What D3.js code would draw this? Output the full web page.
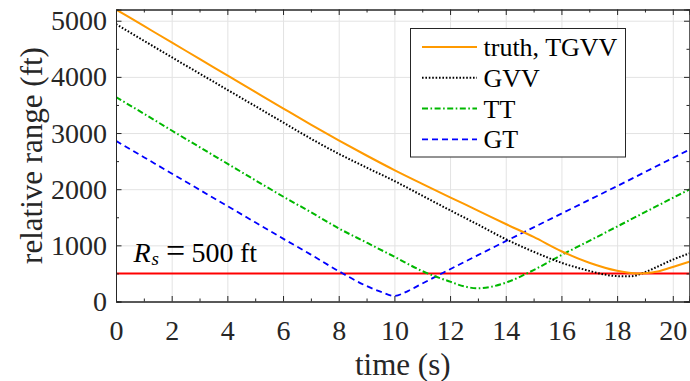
<!DOCTYPE html>
<html>
<head>
  <meta charset="UTF-8">
  <script src="https://d3js.org/d3.v7.min.js"></script>
</head>
<body style="margin:0">
  <svg id="chart" width="690" height="381"></svg>
  <script>
    // time samples (s) and ranges (ft)
    const truthT = [0, 1, 2, 3, 4, 5, 6, 7, 8, 9, 10, 11, 12, 13, 14, 15, 16, 17, 18, 18.7, 19, 19.5, 20, 20.6];
    const truthR = [5200, 4907, 4614, 4320, 4027, 3733, 3440, 3150, 2870, 2600, 2340, 2095, 1855, 1620, 1380, 1150, 895, 690, 548, 500, 505, 540, 615, 710];

    const gvvT = [0, 1, 2, 3, 4, 5, 6, 7, 8, 9, 10, 11, 12, 13, 14, 15, 16, 17, 17.5, 18, 18.5, 19, 19.5, 20, 20.6];
    const gvvR = [4940, 4645, 4350, 4060, 3770, 3480, 3190, 2900, 2630, 2385, 2146, 1885, 1625, 1370, 1110, 886, 690, 545, 485, 452, 450, 520, 632, 745, 857];

    const ttT = [0, 1, 2, 3, 4, 5, 6, 7, 8, 9, 10, 11, 12, 12.5, 13, 13.5, 14, 15, 16, 17, 18, 19, 20, 20.6];
    const ttR = [3640, 3345, 3045, 2750, 2455, 2160, 1870, 1590, 1302, 1050, 797, 542, 353, 270, 235, 265, 335, 560, 827, 1080, 1335, 1590, 1845, 1995];

    const gtT = [0, 1, 2, 3, 4, 5, 6, 7, 8, 9, 9.5, 10, 10.5, 11, 12, 13, 14, 15, 16, 17, 18, 19, 20, 20.6];
    const gtR = [2860, 2570, 2280, 1990, 1700, 1410, 1120, 835, 540, 276, 175, 100, 190, 320, 575, 825, 1075, 1320, 1565, 1810, 2055, 2305, 2555, 2705];

    const safeRange = 500;
    const xTicks = [0, 2, 4, 6, 8, 10, 12, 14, 16, 18, 20];
    const xMinor = [1, 3, 5, 7, 9, 11, 13, 15, 17, 19];
    const yTicks = [0, 1000, 2000, 3000, 4000, 5000];
    const yMinor = [500, 1500, 2500, 3500, 4500];

    const series = [
      {name: "truth, TGVV", t: truthT, r: truthR, color: "#ff9a00", dash: null, width: 2},
      {name: "GVV", t: gvvT, r: gvvR, color: "#000000", dash: "1.6,1.8", width: 2},
      {name: "TT", t: ttT, r: ttR, color: "#00b800", dash: "6,2.5,1.6,2.5", width: 2},
      {name: "GT", t: gtT, r: gtR, color: "#0000ff", dash: "6,4", width: 1.8}
    ];

    const serif = "'Liberation Serif'";
    const svg = d3.select("#chart");
    const margin = {top: 9.5, right: 0.5, bottom: 79.5, left: 116};
    const width = +svg.attr("width") - margin.left - margin.right;
    const height = +svg.attr("height") - margin.top - margin.bottom;
    const g = svg.append("g").attr("transform", `translate(${margin.left},${margin.top})`);

    const x = d3.scaleLinear().domain([0, 20.6]).range([0, width]);
    const y = d3.scaleLinear().domain([0, 5200]).range([height, 0]);

    // grid
    const gx = g.append("g")
      .attr("transform", `translate(0,${height})`)
      .call(d3.axisBottom(x).tickValues(xTicks).tickSize(-height).tickFormat(""));
    const gy = g.append("g")
      .call(d3.axisLeft(y).tickValues(yTicks).tickSize(-width).tickFormat(""));
    [gx, gy].forEach(a => {
      a.select(".domain").remove();
      a.selectAll("line").attr("stroke", "#e3e3e3");
    });

    // lines
    svg.append("clipPath").attr("id", "clip")
      .append("rect").attr("width", width).attr("height", height);

    const line = d3.line()
      .x(d => x(d[0]))
      .y(d => y(d[1]))
      .curve(d3.curveMonotoneX);

    const plot = g.append("g").attr("clip-path", "url(#clip)");

    plot.append("line")
      .attr("x1", 0).attr("x2", width)
      .attr("y1", y(safeRange)).attr("y2", y(safeRange))
      .attr("stroke", "#ff0000").attr("stroke-width", 2);

    series.slice().reverse().forEach(s => {
      plot.append("path")
        .datum(s.t.map((t, i) => [t, s.r[i]]))
        .attr("fill", "none")
        .attr("stroke", s.color)
        .attr("stroke-width", s.width)
        .attr("stroke-dasharray", s.dash)
        .attr("d", line);
    });

    // axes, ticks inward on all four sides
    const axes = [];
    const bottom = g.append("g")
      .attr("transform", `translate(0,${height})`)
      .call(d3.axisBottom(x).tickValues(xTicks).tickSize(-5.5).tickFormat(d3.format("d")));
    bottom.selectAll("text").attr("y", 38.5).attr("dy", 0);
    axes.push(bottom);
    axes.push(g.append("g")
      .attr("transform", `translate(0,${height})`)
      .call(d3.axisBottom(x).tickValues(xMinor).tickSize(-3).tickFormat("")));

    const left = g.append("g")
      .call(d3.axisLeft(y).tickValues(yTicks).tickSize(-5.5).tickFormat(d3.format("d")));
    left.selectAll("text").attr("x", -9);
    axes.push(left);
    axes.push(g.append("g")
      .call(d3.axisLeft(y).tickValues(yMinor).tickSize(-3).tickFormat("")));

    axes.push(g.append("g")
      .call(d3.axisTop(x).tickValues(xTicks).tickSize(-5.5).tickFormat("")));
    axes.push(g.append("g")
      .call(d3.axisTop(x).tickValues(xMinor).tickSize(-3).tickFormat("")));
    axes.push(g.append("g")
      .attr("transform", `translate(${width},0)`)
      .call(d3.axisRight(y).tickValues(yTicks).tickSize(-5.5).tickFormat("")));
    axes.push(g.append("g")
      .attr("transform", `translate(${width},0)`)
      .call(d3.axisRight(y).tickValues(yMinor).tickSize(-3).tickFormat("")));

    axes.forEach(a => {
      a.attr("font-family", "Liberation Serif").attr("font-size", 28);
      a.selectAll("path, line").attr("stroke", "#262626");
      a.selectAll("text")
        .attr("font-family", "Liberation Serif")
        .style("font-family", serif)
        .attr("fill", "#262626");
    });

    // R_s label
    const rsY = y(safeRange) - 11;
    const rs = g.append("text")
      .attr("y", rsY)
      .attr("font-family", "Liberation Serif")
      .style("font-family", serif)
      .attr("font-size", 28).attr("fill", "#000");
    rs.append("tspan").attr("x", 17.5).attr("font-style", "italic").text("R");
    rs.append("tspan").attr("x", 35.5).attr("y", rsY + 3)
      .attr("font-style", "italic").attr("font-size", 19).text("s");
    rs.append("tspan").attr("x", 50).attr("y", rsY).attr("font-size", 34).text("=");
    rs.append("tspan").attr("x", 75.5).text("500");
    rs.append("tspan").attr("x", 124).text("ft");

    // axis labels
    svg.append("text")
      .attr("x", margin.left + width / 2)
      .attr("y", 375)
      .attr("text-anchor", "middle")
      .attr("font-family", "Liberation Serif")
      .style("font-family", serif)
      .attr("font-size", 31)
      .attr("fill", "#262626")
      .text("time (s)");

    svg.append("text")
      .attr("transform", `translate(42,${margin.top + height / 2}) rotate(-90)`)
      .attr("text-anchor", "middle")
      .attr("font-family", "Liberation Serif")
      .style("font-family", serif)
      .attr("font-size", 31)
      .attr("fill", "#262626")
      .text("relative range (ft)");

    // legend
    const legend = svg.append("g").attr("transform", "translate(410.5,28.5)");
    legend.append("rect")
      .attr("width", 215).attr("height", 128.5)
      .attr("fill", "#fff").attr("stroke", "#262626").attr("stroke-width", 1);
    series.forEach((s, i) => {
      const ly = 18.5 + i * 30.8;
      legend.append("line")
        .attr("x1", 11.5).attr("x2", 66.5)
        .attr("y1", ly).attr("y2", ly)
        .attr("stroke", s.color)
        .attr("stroke-width", s.width)
        .attr("stroke-dasharray", s.dash);
      legend.append("text")
        .attr("x", 73).attr("y", ly + 9)
        .attr("font-family", "Liberation Serif")
        .style("font-family", serif)
        .attr("font-size", 26)
        .attr("fill", "#000")
        .text(s.name);
    });
  </script>
</body>
</html>
